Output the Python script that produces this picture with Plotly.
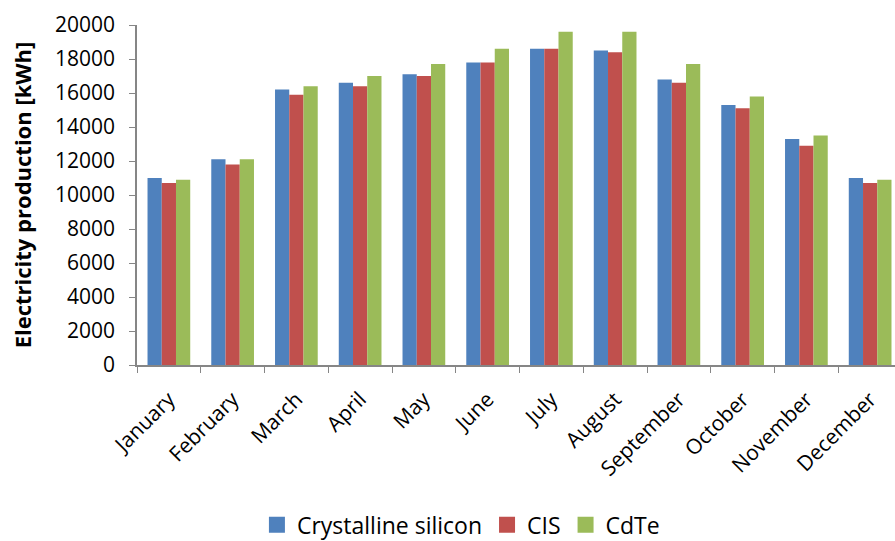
import plotly.graph_objects as go

months = ["January", "February", "March", "April", "May", "June", "July",
          "August", "September", "October", "November", "December"]
crystalline = [11000, 12100, 16200, 16600, 17100, 17800, 18600, 18500, 16800, 15300, 13300, 11000]
cis = [10700, 11800, 15900, 16400, 17000, 17800, 18600, 18400, 16600, 15100, 12900, 10700]
cdte = [10900, 12100, 16400, 17000, 17700, 18600, 19600, 19600, 17700, 15800, 13500, 10900]

series = [
    ("Crystalline silicon", crystalline, "#4F81BD"),
    ("CIS", cis, "#C0504D"),
    ("CdTe", cdte, "#9BBB59"),
]

font_family = "'Open Sans', Lato, sans-serif"

fig = go.Figure()
for name, vals, color in series:
    fig.add_trace(go.Bar(
        x=months, y=vals, name=name, showlegend=False,
        marker=dict(color=color, line=dict(width=0)),
    ))
# legend keys drawn as larger square markers
for name, vals, color in series:
    fig.add_trace(go.Scatter(
        x=[months[0]], y=[None], name=name, mode="markers",
        marker=dict(symbol="square", size=17, color=color),
    ))

fig.update_layout(
    width=895, height=541,
    margin=dict(l=137, r=0, t=25, b=176, autoexpand=False),
    barmode="group", bargap=0.33, bargroupgap=0,
    plot_bgcolor="white", paper_bgcolor="white",
    font=dict(family=font_family, size=21, color="black"),
    showlegend=True,
    legend=dict(orientation="h", xref="container", x=0.515, xanchor="center",
                yref="container", y=0.03, yanchor="middle",
                font=dict(size=23), traceorder="normal"),
    xaxis=dict(
        range=[-0.5, 11.39], tickangle=-45, showline=True, linecolor="#868686",
        linewidth=1.5, ticks="outside", tickson="boundaries", ticklen=6,
        tickcolor="#868686", showgrid=False, tickfont=dict(size=21),
        automargin=False, ticklabelstandoff=12,
    ),
    yaxis=dict(
        range=[0, 20000], dtick=2000, tickformat="d", showline=True, linecolor="#868686",
        linewidth=1.5, ticks="outside", ticklen=6, tickcolor="#868686",
        showgrid=False, zeroline=False, tickfont=dict(size=21),
        automargin=False, ticklabelstandoff=10,
        title=dict(text="<b>Electricity production [kWh]</b>", font=dict(size=22), standoff=17),
    ),
)

fig.write_html("out.html")
